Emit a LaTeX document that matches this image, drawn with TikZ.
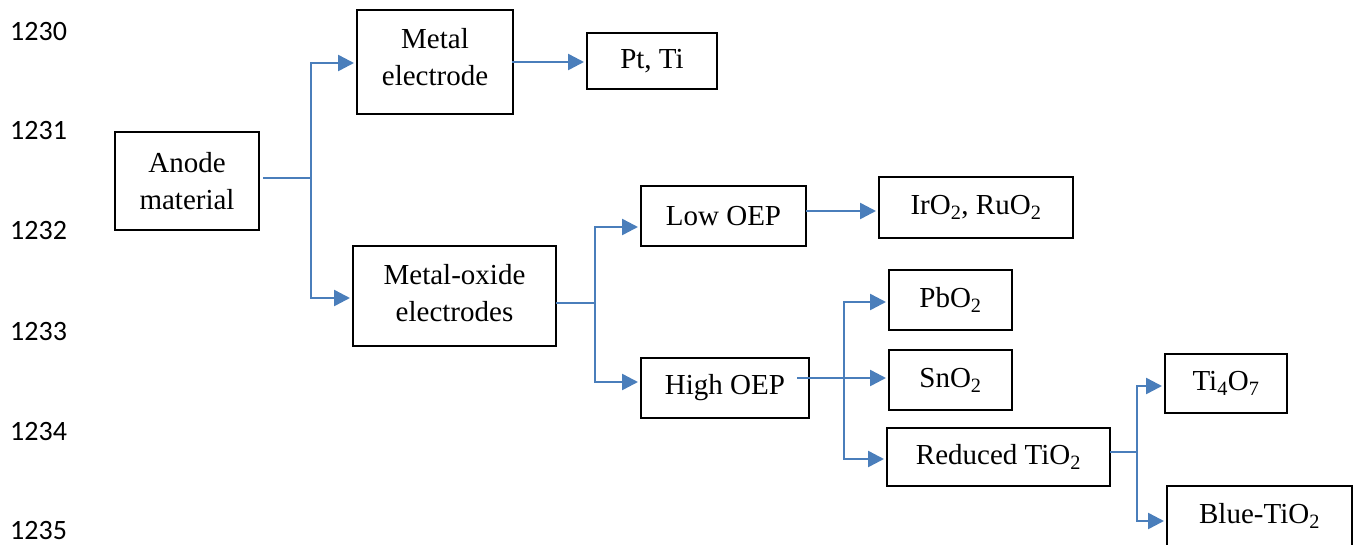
\documentclass[tikz,border=0pt]{standalone}
\usepackage{fontspec}
\setmainfont{Liberation Serif}
\newfontfamily\numfont{Carlito}
\usetikzlibrary{arrows.meta,calc}
\definecolor{linkblue}{RGB}{74,126,187}
\tikzset{
  box/.style={draw=black, line width=1.5pt, inner sep=0pt, outer sep=0pt,
    align=center, font=\fontsize{29}{37}\selectfont},
  boxtext/.style={inner sep=0pt, align=center, font=\fontsize{29}{37}\selectfont},
  link/.style={draw=linkblue, line width=2.5pt},
  arrowlink/.style={link, -{Triangle[length=16pt,width=16pt]}, shorten >=3pt},
  linenum/.style={anchor=west, inner sep=0pt, font=\numfont\fontsize{28}{28}\selectfont}
}
\newcommand{\sub}[1]{\textsubscript{#1}}
\begin{document}
\begin{tikzpicture}[x=1pt,y=-1pt]
\useasboundingbox (0,0) rectangle (1355,544);

% line numbers
\node[linenum] (n0) at (10,32) {1230};
\node[linenum] (n1) at (10,131) {1231};
\node[linenum] (n2) at (10,231) {1232};
\node[linenum] (n3) at (10,332) {1233};
\node[linenum] (n4) at (10,432) {1234};
\node[linenum] (n5) at (10,531) {1235};

% boxes
\node[box, minimum width=144pt, minimum height=98pt] (anode) at (187,181) {Anode\\material};
\node[box, minimum width=156pt, minimum height=104pt] (metal) at (435,62) {};
\node[boxtext] (metaltext) at (435,57) {Metal\\electrode};
\node[box, minimum width=130pt, minimum height=56pt] (ptti) at (652,61) {Pt, Ti};
\node[box, minimum width=203pt, minimum height=100pt] (mox) at (454.5,296) {};
\node[boxtext] (moxtext) at (454.5,293) {Metal-oxide\\electrodes};
\node[box, minimum width=165pt, minimum height=60pt] (low) at (723.5,216) {Low OEP};
\node[box, minimum width=168pt, minimum height=60pt] (high) at (725,388) {High OEP};
\node[box, minimum width=194pt, minimum height=61pt] (irox) at (976,207.5) {IrO\sub{2}, RuO\sub{2}};
\node[box, minimum width=123pt, minimum height=60pt] (pbo) at (950.5,300) {PbO\sub{2}};
\node[box, minimum width=123pt, minimum height=60pt] (sno) at (950.5,380) {SnO\sub{2}};
\node[box, minimum width=223pt, minimum height=58pt] (red) at (998.5,457) {Reduced TiO\sub{2}};
\node[box, minimum width=122pt, minimum height=59pt] (tio) at (1226,383.5) {Ti\sub{4}O\sub{7}};
\node[box, minimum width=185pt, minimum height=60pt] (blue) at (1259.5,516) {Blue-TiO\sub{2}};

% fork points
\coordinate (f1) at (311,178);
\coordinate (f2) at (595,303);
\coordinate (f3) at (844,378);
\coordinate (f4) at (1137,452);

% connectors
\draw[link] ($(anode.east)+(4,-3)$) -- (f1);
\draw[arrowlink] (f1) |- ($(metal.west)+(0,1)$);
\draw[arrowlink] (f1) |- ($(mox.west)+(0,2)$);
\draw[arrowlink] ($(metal.east)+(-1,0)$) -- ($(ptti.west)+(0,1)$);

\draw[link] ($(mox.east)+(0,7)$) -- (f2);
\draw[arrowlink] (f2) |- ($(low.west)+(0,11)$);
\draw[arrowlink] (f2) |- ($(high.west)+(0,-6)$);
\draw[arrowlink] ($(low.east)+(0,-5)$) -- ($(irox.west)+(0,3.5)$);

\draw[arrowlink] ($(high.east)+(-12,-10)$) -- ($(sno.west)+(0,-2)$);
\draw[arrowlink] (f3) |- ($(pbo.west)+(0,2)$);
\draw[arrowlink] (f3) |- ($(red.west)+(0,2)$);

\draw[link] ($(red.east)+(0,-5)$) -- (f4);
\draw[arrowlink] (f4) |- ($(tio.west)+(0,2.5)$);
\draw[arrowlink] (f4) |- ($(blue.west)+(0,5)$);
\end{tikzpicture}
\end{document}
